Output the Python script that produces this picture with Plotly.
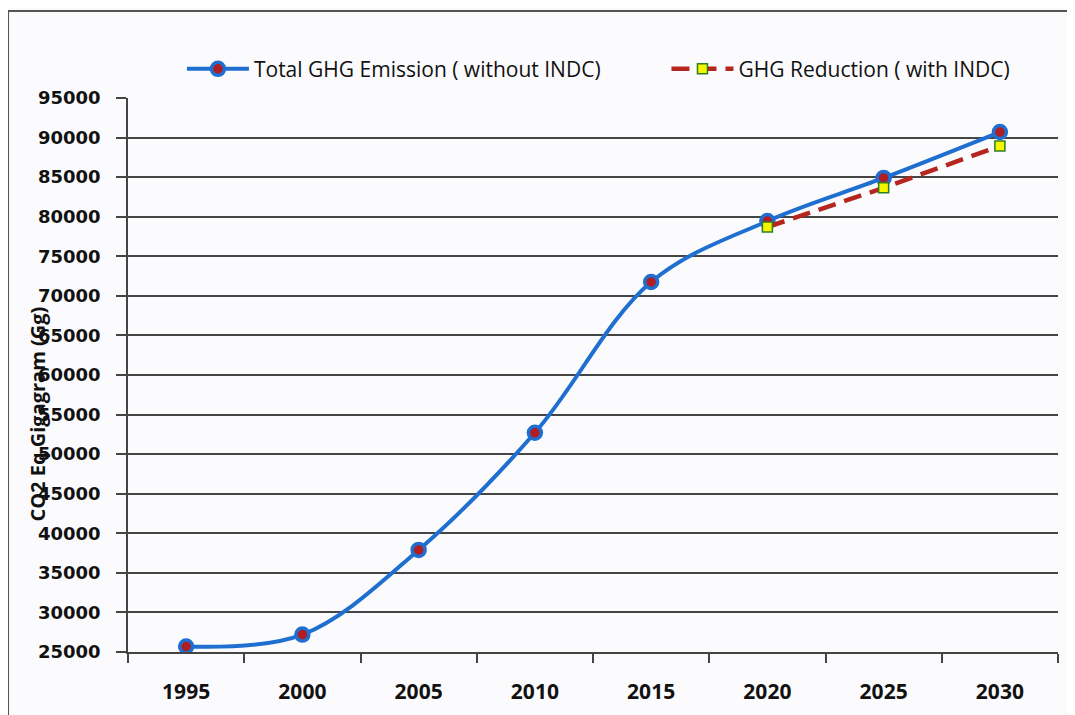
import plotly.graph_objects as go

years = ["1995", "2000", "2005", "2010", "2015", "2020", "2025", "2030"]
total_ghg = [25700, 27200, 37900, 52700, 71750, 79450, 84900, 90700]
red_years = ["2020", "2025", "2030"]
reduction_ghg = [78700, 83650, 88950]
y_ticks = list(range(25000, 95001, 5000))

fig = go.Figure()
fig.add_trace(go.Scatter(
    x=years, y=total_ghg, mode="lines+markers",
    name="Total GHG Emission ( without INDC)", legend="legend",
    line=dict(color="#1f6fd1", width=4, shape="spline", smoothing=1.0),
    marker=dict(symbol="circle", size=13, color="#b01e23",
                line=dict(color="#1f6fd1", width=3.5)),
))
fig.add_trace(go.Scatter(
    x=red_years, y=reduction_ghg, mode="lines+markers",
    name="GHG Reduction ( with INDC)", legend="legend2",
    line=dict(color="#b5261e", width=4.5, dash="18px,9px"),
    marker=dict(symbol="square", size=10, color="#f5f500",
                line=dict(color="#2e7d1e", width=1.5)),
))

leg_common = dict(orientation="h", yanchor="middle", xanchor="left",
                  font=dict(family="Open Sans", size=21, color="#111"),
                  bgcolor="rgba(0,0,0,0)", itemwidth=62)
fig.update_layout(
    width=1075, height=715,
    margin=dict(l=120, r=25, t=90, b=71, autoexpand=False),
    paper_bgcolor="#fbfbfd", plot_bgcolor="#fbfbfd",
    showlegend=True,
    legend=dict(x=0.058, y=1.052, **leg_common),
    legend2=dict(x=0.579, y=1.052, **leg_common),
    font=dict(family="DejaVu Sans", color="#111"),
)
fig.update_xaxes(
    type="category", categoryorder="array", categoryarray=years,
    range=[-0.5, 7.5], automargin=False,
    showline=True, linecolor="#444", linewidth=1.5,
    ticks="outside", tickson="boundaries", ticklen=9, tickcolor="#444", tickwidth=1.5,
    ticklabelstandoff=20,
    showgrid=False,
    tickfont=dict(family="Open Sans", size=21, color="#111", weight="bold"),
)
fig.update_yaxes(
    range=[25000, 95000], tickvals=y_ticks, ticktext=[str(v) for v in y_ticks],
    automargin=False,
    showline=True, linecolor="#444", linewidth=1.5,
    ticks="outside", ticklen=10, tickcolor="#444", tickwidth=1.5,
    ticklabelstandoff=12,
    showgrid=True, gridcolor="#454545", gridwidth=1.7,
    zeroline=False,
    tickfont=dict(family="DejaVu Sans", size=18, color="#111", weight="bold"),
)
fig.add_annotation(
    text="CO2 Eq Gigagram (Gg)", xref="paper", yref="paper",
    x=-0.097, y=0.43, xanchor="center", yanchor="middle",
    textangle=-90, showarrow=False,
    font=dict(family="Open Sans", size=20, color="#111", weight="bold"),
)
fig.add_shape(type="rect", xref="paper", yref="paper",
              x0=-0.129, x1=1.06, y0=-0.2, y1=1.157,
              line=dict(color="#555", width=2), fillcolor="rgba(0,0,0,0)")

fig.write_html("out.html")
